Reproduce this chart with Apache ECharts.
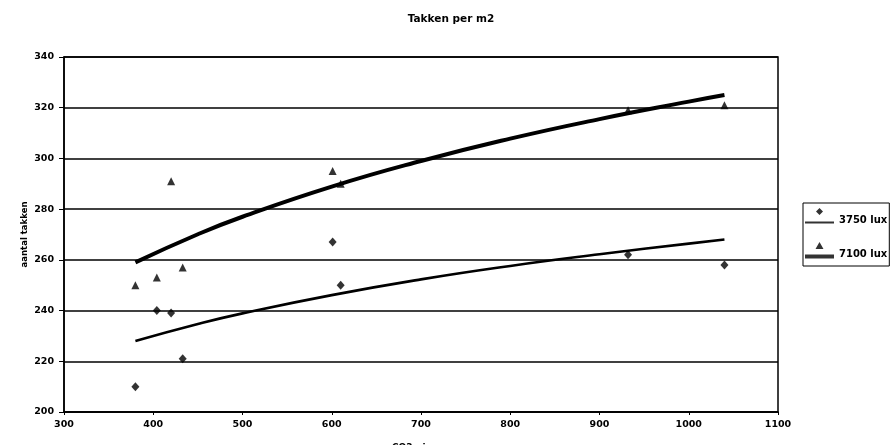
<!DOCTYPE html>
<html>
<head>
<meta charset="utf-8">
<script src="https://cdn.jsdelivr.net/npm/echarts@6/dist/echarts.min.js"></script>
<style>
html,body{margin:0;padding:0;background:#fff;}
#chart{width:891px;height:445px;}
</style>
</head>
<body>
<div id="chart"></div>
<script>
// ---- data ----
const co2 = [380, 404, 420, 433, 601, 610, 932, 1040];
const lux3750 = [210, 240, 239, 221, 267, 250, 262, 258];
const lux7100 = [250, 253, 291, 257, 295, 290, 319, 321];
// logarithmic trend lines
const trendX = [380, 450, 500, 600, 700, 800, 900, 1000, 1040];
const trend3750 = [228, 234.7, 238.9, 246.1, 252.3, 257.6, 262.2, 266.4, 268];
const trend7100 = [259, 270.1, 277, 288.9, 299, 307.8, 315.5, 322.4, 325];
const seriesNames = ['3750 lux', '7100 lux'];
const titleText = 'Takken per m2';
const xName = 'CO2-niveau';
const yName = 'aantal takken';

const pairs = (xs, ys) => xs.map((x, i) => [x, ys[i]]);
const FONT = 'DejaVu Sans';

const icon1 = 'path://M14.5 0 L18 3.5 L14.5 7 L11 3.5 Z M0 13.5 L29 13.5 L29 15.5 L0 15.5 Z M0 24 L0 24 Z';
const icon2 = 'path://M14.5 0 L18.5 7 L10.5 7 Z M0 12.5 L29 12.5 L29 16.5 L0 16.5 Z M0 24 L0 24 Z';

const chart = echarts.init(document.getElementById('chart'), null, {renderer: 'canvas'});
chart.setOption({
  animation: false,
  backgroundColor: '#fff',
  title: {
    text: titleText,
    left: 446, top: 9, textAlign: 'center',
    textStyle: {fontFamily: FONT, fontWeight: 'bold', fontSize: 10.5, color: '#000'}
  },
  legend: {
    orient: 'vertical',
    left: 803, top: 203,
    padding: [5, 2, 0, 2],
    itemWidth: 29, itemHeight: 24, itemGap: 10,
    borderColor: '#000', borderWidth: 1,
    data: [{name: seriesNames[0], icon: icon1}, {name: seriesNames[1], icon: icon2}],
    textStyle: {fontFamily: FONT, fontWeight: 'bold', fontSize: 10, color: '#000'}
  },
  grid: {
    left: 64, right: 113, top: 57, bottom: 33,
    containLabel: false, outerBoundsMode: 'none',
    show: true, borderColor: '#000', borderWidth: 1.5, backgroundColor: '#fff'
  },
  xAxis: {
    type: 'value', min: 300, max: 1100, interval: 100,
    name: xName, nameLocation: 'middle', nameGap: 31,
    nameTextStyle: {fontFamily: FONT, fontWeight: 'bold', fontSize: 9, color: '#000'},
    axisLine: {lineStyle: {color: '#000', width: 1.5}},
    axisTick: {show: true, length: 3, lineStyle: {color: '#000'}},
    axisLabel: {fontFamily: FONT, fontWeight: 'bold', fontSize: 9.5, color: '#000', margin: 8,
      formatter: v => String(v)},
    splitLine: {show: false}
  },
  yAxis: {
    type: 'value', min: 200, max: 340, interval: 20,
    name: yName, nameLocation: 'middle', nameGap: 35, nameRotate: 90, nameMoveOverlap: false,
    nameTextStyle: {fontFamily: FONT, fontWeight: 'bold', fontSize: 8.5, color: '#000'},
    axisLine: {show: true, lineStyle: {color: '#000', width: 1.5}},
    axisTick: {show: true, length: 5, lineStyle: {color: '#000'}},
    axisLabel: {fontFamily: FONT, fontWeight: 'bold', fontSize: 9.5, color: '#000', margin: 10,
      formatter: v => String(v)},
    splitLine: {show: true, lineStyle: {color: '#000', width: 1.6}}
  },
  series: [
    {
      name: 'Log. (' + seriesNames[0] + ')', type: 'line', data: pairs(trendX, trend3750),
      smooth: true, showSymbol: false, silent: true,
      lineStyle: {color: '#000', width: 2.6}, z: 3
    },
    {
      name: 'Log. (' + seriesNames[1] + ')', type: 'line', data: pairs(trendX, trend7100),
      smooth: true, showSymbol: false, silent: true,
      lineStyle: {color: '#000', width: 4}, z: 3
    },
    {
      name: seriesNames[0], type: 'scatter', data: pairs(co2, lux3750),
      symbol: 'diamond', symbolSize: [8, 9],
      itemStyle: {color: '#000'}, z: 4
    },
    {
      name: seriesNames[1], type: 'scatter', data: pairs(co2, lux7100),
      symbol: 'triangle', symbolSize: [8, 8],
      itemStyle: {color: '#000'}, z: 4
    }
  ]
});
</script>
</body>
</html>
